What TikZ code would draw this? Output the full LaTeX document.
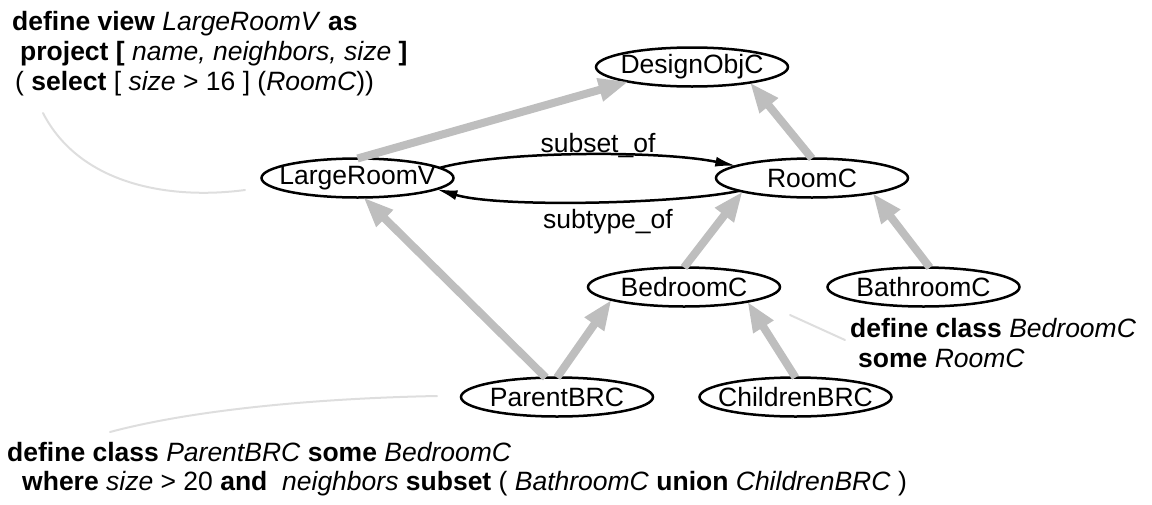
\documentclass[tikz,border=0pt]{standalone}
\usepackage{fontspec}
\setmainfont{Liberation Sans}
\usetikzlibrary{arrows.meta,shapes.geometric}
\definecolor{isagray}{RGB}{190,190,190}
\definecolor{notegray}{RGB}{222,222,222}
% class names are set in a zero-width box so the ellipse keeps its fixed size
\newcommand\clsname[1]{\makebox[0pt]{#1}}
\begin{document}
\begin{tikzpicture}[x=1pt,y=-1pt,
  every node/.style={font=\fontsize{26.5}{30}\selectfont},
  cls/.style={ellipse, draw, line width=2.5pt, minimum width=192pt,
    minimum height=39pt, inner sep=0pt, outer sep=0pt},
  isa/.style={draw=isagray, line width=8pt, -{Triangle[length=30pt,width=22pt]}},
  rel/.style={line width=2.5pt, -{Latex[length=21pt,width=10pt]}},
  note/.style={draw=notegray, line width=2pt, line cap=round},
  txt/.style={anchor=base west, inner sep=0pt},
  lbl/.style={anchor=base, inner sep=0pt}]
\useasboundingbox (0,0) rectangle (1152,504);

% classes and the view
\node[cls] (doc)    at (692,67)    {\clsname{DesignObjC}};
\node[cls] (lrv)    at (357.5,178) {\clsname{LargeRoomV}};
\node[cls] (roomc)  at (812,178)   {\clsname{RoomC}};
\node[cls] (bed)    at (684,287)   {\clsname{BedroomC}};
\node[cls] (bath)   at (923.5,287) {\clsname{BathroomC}};
\node[cls] (parent) at (557,397)   {\clsname{ParentBRC}};
\node[cls] (child)  at (795.5,397) {\clsname{ChildrenBRC}};

% specialisation links
\draw[isa] (lrv.north)   -- (doc.193);
\draw[isa] (roomc.north) -- (doc.-15);
\draw[isa] (bed.north)   -- (roomc.191);
\draw[isa] (bath.72)     -- (roomc.-14);
\draw[isa] (parent.120)  -- (lrv.-73);
\draw[isa] (parent.north) -- (bed.190);
\draw[isa] (child.north) -- (bed.-13);

% view relations
\draw[rel] (lrv.7) .. controls +(60,-17) and +(-77,-16) .. (roomc.171);
\draw[rel] (roomc.190) .. controls +(-60,13) and +(63,19) .. (lrv.-8);
\node[lbl] (subset)  at (598,152) {subset\_of};
\node[lbl] (subtype) at (608,228) {subtype\_of};

% definition of the view
\node[txt] (v1) at (12,30) {\textbf{define view} \textit{LargeRoomV} \textbf{as}};
\node[txt] (v2) at (20,60) {\textbf{project [} \textit{name, neighbors, size} \textbf{]}};
\node[txt] (v3) at (15,90) {( \textbf{select} [ \textit{size} > 16 ] (\textit{RoomC}))};

% definition of BedroomC
\node[txt] (b1) at (850,337) {\textbf{define class} \textit{BedroomC}};
\node[txt] (b2) at (858,367) {\textbf{some} \textit{RoomC}};

% definition of ParentBRC
\node[txt] (p1) at (7,461) {\textbf{define class} \textit{ParentBRC} \textbf{some} \textit{BedroomC}};
\node[txt] (p2) at (22,490) {\textbf{where} \textit{size} > 20 \textbf{and}\ \ \textit{neighbors} \textbf{subset} ( \textit{BathroomC} \textbf{union} \textit{ChildrenBRC} )};

% pointer lines from the definitions
\coordinate (vA) at (43,113);
\coordinate (vB) at (245,190);
\coordinate (bA) at (845,340);
\coordinate (bB) at (790,315);
\coordinate (pA) at (110,432);
\coordinate (pB) at (437,396);
\draw[note] (vA) .. controls (80,185) and (170,200) .. (vB);
\draw[note] (bA) -- (bB);
\draw[note] (pA) .. controls (200,408) and (330,398) .. (pB);
\end{tikzpicture}
\end{document}
